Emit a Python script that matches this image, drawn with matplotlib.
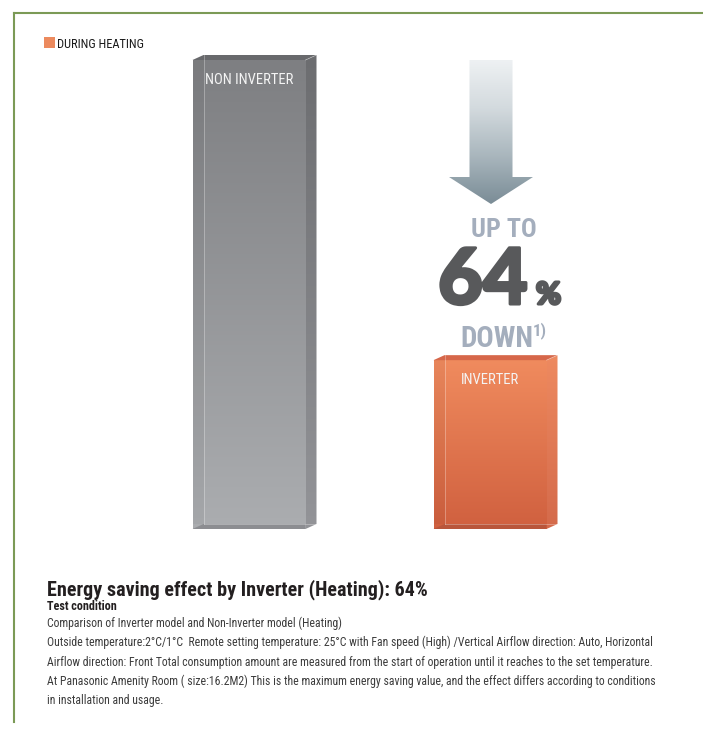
import numpy as np
import matplotlib
matplotlib.use("Agg")
import matplotlib.pyplot as plt
import matplotlib.patheffects as pe
from matplotlib import font_manager
from matplotlib.colors import LinearSegmentedColormap
from matplotlib.lines import Line2D
from matplotlib.patches import Polygon, Rectangle

# ---- data -------------------------------------------------------------
categories = ["NON INVERTER", "INVERTER"]
consumption = [100, 36]          # relative energy consumption
saving_pct = 64
legend_label = "DURING HEATING"
title = "Energy saving effect by Inverter (Heating): 64%"
subtitle = "Test condition"
notes = [
    "Comparison of Inverter model and Non-Inverter model (Heating)",
    "Outside temperature:2°C/1°C  Remote setting temperature: 25°C with Fan speed (High) /Vertical "
    "Airflow direction: Auto, Horizontal",
    "Airflow direction: Front Total consumption amount are measured from the start of operation "
    "until it reaches to the set temperature.",
    "At Panasonic Amenity Room ( size:16.2M2) This is the maximum energy saving value, and the "
    "effect differs according to conditions",
    "in installation and usage.",
]

# colours: front top, front bottom, side top, side bottom, top face, bottom face
bar_styles = [
    ("#7e7f82", "#abadb0", "#6c6d70", "#939498", "#68696c", "#85868a"),
    ("#f08b5e", "#d0603f", "#ee8a60", "#d46a4b", "#d6674a", "#b4543b"),
]
arrow_colors = ["#7a8c96", "#a9b6bd", "#d3dade", "#eef1f3"]
pale_text = "#a4aebd"
big_text = "#58595b"
border_color = "#7b9a56"
legend_color = "#ec8a5e"

W, H = 703, 731
FONTS = font_manager.fontManager.ttflist


def pick_condensed():
    names = {f.name for f in FONTS}
    for fam in ["Roboto Condensed", "Liberation Sans Narrow", "Open Sans Condensed"]:
        if fam in names:
            return dict(family=fam)
    if any(f.name == "DejaVu Sans" and f.stretch == "condensed" for f in FONTS):
        return dict(family="DejaVu Sans", stretch="condensed")
    return dict(family="DejaVu Sans")


def pick_heavy():
    best = ("DejaVu Sans", 700)
    for fam in ["Lato", "Roboto", "Inter", "Open Sans", "Noto Sans"]:
        ws = [f.weight for f in FONTS if f.name == fam and isinstance(f.weight, int)]
        if ws and max(ws) > best[1]:
            best = (fam, max(ws))
    return dict(family=best[0], fontweight=best[1])


COND = pick_condensed()
HEAVY = pick_heavy()

fig = plt.figure(figsize=(W / 100, H / 100), dpi=100)
fig.patch.set_facecolor("white")
renderer = fig.canvas.get_renderer()


def fx(x):
    return x / W


def fy(y):
    return 1 - y / H


def fit(t, width):
    w = t.get_window_extent(renderer).width
    t.set_fontsize(t.get_fontsize() * width / w)
    return t


def ptext(x, y, s, width, **kw):
    t = fig.text(fx(x), fy(y), s, ha="left", va="baseline", **kw)
    return fit(t, width)


# ---- frame --------------------------------------------------------------
fig.add_artist(Line2D([fx(14), 1.0], [fy(13), fy(13)], color=border_color, lw=1.5,
                      transform=fig.transFigure))
fig.add_artist(Line2D([fx(14), fx(14)], [fy(13), fy(722)], color=border_color, lw=1.5,
                      transform=fig.transFigure))

# ---- bars ---------------------------------------------------------------
ax = fig.add_axes([0, 0, 1, 1])
px_per_cat = 241.0
x0_px, y0_px, y100_px = 249.0, 529.0, 60.0
per_val = (y0_px - y100_px) / 100.0
xlim = (-x0_px / px_per_cat, (W - x0_px) / px_per_cat)
ylim = (-(H - y0_px) / per_val, 100 + y100_px / per_val)

bar_w = 113 / px_per_cat
dx = 11 / px_per_cat
dy = 5 / per_val


def grad_fill(xy, colors, z):
    xy = np.asarray(xy)
    cmap = LinearSegmentedColormap.from_list("g", colors)
    ext = [xy[:, 0].min(), xy[:, 0].max(), xy[:, 1].min(), xy[:, 1].max()]
    im = ax.imshow(np.linspace(0, 1, 256).reshape(-1, 1), cmap=cmap, extent=ext,
                   origin="lower", aspect="auto", interpolation="bilinear", zorder=z)
    clip = Polygon(xy, closed=True, facecolor="none", edgecolor="none")
    ax.add_patch(clip)
    im.set_clip_path(clip)


for i, val in enumerate(consumption):
    ft, fb, st, sb, tc, bc = bar_styles[i]
    a, b = i - bar_w / 2, i + bar_w / 2
    grad_fill([(a, 0), (b, 0), (b, val), (a, val)], [fb, ft], 2)
    # right face
    grad_fill([(b, 0), (b + dx, dy), (b + dx, val + dy), (b, val)], [sb, st], 2)
    # top face
    ax.add_patch(Polygon([(a, val), (a + dx, val + dy), (b + dx, val + dy), (b, val)],
                         closed=True, facecolor=tc, edgecolor="none", zorder=3))
    # bottom face seen through the glass
    ax.add_patch(Polygon([(a, 0), (a + dx, dy), (b, dy), (b, 0)],
                         closed=True, facecolor=bc, edgecolor="none", alpha=0.8, zorder=3))
    # left strip + hidden back edges
    ax.add_patch(Rectangle((a, dy), dx, val - dy, facecolor="black", alpha=0.03,
                           edgecolor="none", zorder=3))
    ax.plot([a + dx, a + dx], [dy, val + dy], color="white", lw=0.6, alpha=0.35, zorder=4)
    ax.plot([a + dx, b + dx], [dy, dy], color="white", lw=0.6, alpha=0.35, zorder=4)
    ax.plot([b, b + dx], [val, val + dy], color="white", lw=0.6, alpha=0.35, zorder=4)

# ---- arrow from the non-inverter level down towards the inverter bar ---
ax_c = 1 + 1 / px_per_cat
sh = 21.5 / px_per_cat
hd = 42 / px_per_cat
head_base = (y0_px - 177) / per_val
tip = (y0_px - 204) / per_val
arrow_xy = [(ax_c - sh, consumption[0]), (ax_c + sh, consumption[0]), (ax_c + sh, head_base),
            (ax_c + hd, head_base), (ax_c, tip), (ax_c - hd, head_base), (ax_c - sh, head_base)]
grad_fill(arrow_xy, arrow_colors, 2)

ax.set_xlim(*xlim)
ax.set_ylim(*ylim)
ax.axis("off")

# bar labels inside the top of each bar
labels = [ax.annotate(name, (i, val), xytext=(0, -24), textcoords="offset pixels",
                      ha="center", va="baseline", color="#f4f4f4", fontsize=11,
                      zorder=5, annotation_clip=False, **COND)
          for i, (name, val) in enumerate(zip(categories, consumption))]
w0 = labels[0].get_window_extent(renderer).width
for t in labels:
    t.set_fontsize(t.get_fontsize() * 88 / w0)

# ---- saving annotation --------------------------------------------------
thick = [pe.withStroke(linewidth=2.2, foreground=big_text)]
ptext(471, 237, "UP TO", 66, color=pale_text, fontsize=24, fontweight="bold", **COND)
ptext(438, 304, f"{saving_pct}", 90, color=big_text, fontsize=50, path_effects=thick, **HEAVY)
ptext(536, 304, "%", 25, color=big_text, fontsize=18, path_effects=thick, **HEAVY)
ptext(460, 347, "DOWN", 73, color=pale_text, fontsize=24, fontweight="bold", **COND)
ptext(533, 335, "1)", 14, color=pale_text, fontsize=11, fontweight="bold", **COND)

# ---- legend -------------------------------------------------------------
fig.add_artist(Rectangle((fx(44), fy(48)), 11 / W, 11 / H, transform=fig.transFigure,
                         facecolor=legend_color, edgecolor="none"))
ptext(57, 48, legend_label, 87, color="#1a1a1a", fontsize=10, **COND)

# ---- text block ---------------------------------------------------------
ptext(47, 595, title, 383, color="#231f20", fontsize=14, fontweight="bold", **COND)
ptext(47, 610, subtitle, 70, color="#231f20", fontsize=9, fontweight="bold", **COND)

body = [fig.text(fx(47), fy(627 + 19.3 * k), line, ha="left", va="baseline",
                 color="#3c3c3c", fontsize=9, **COND) for k, line in enumerate(notes)]
wl = body[2].get_window_extent(renderer).width
for t in body:
    t.set_fontsize(t.get_fontsize() * 608 / wl)

fig.savefig("out.png", dpi=100, facecolor="white")
